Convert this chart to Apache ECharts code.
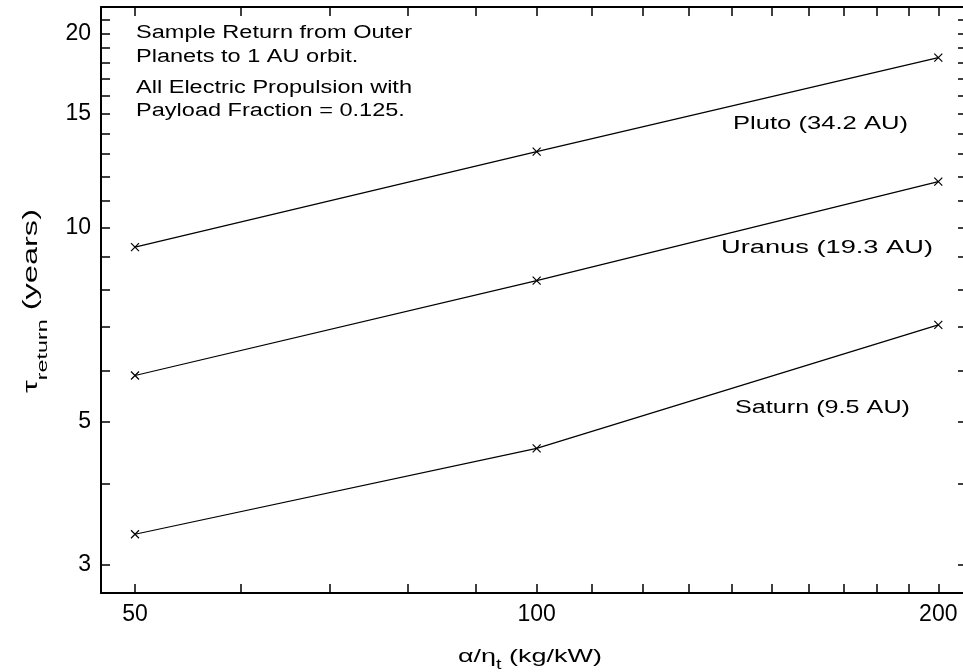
<!DOCTYPE html>
<html>
<head>
<meta charset="utf-8">
<script src="https://cdn.jsdelivr.net/npm/echarts@6/dist/echarts.min.js"></script>
<style>html,body{margin:0;padding:0;background:#fff;}#c{width:963px;height:672px;}</style>
</head>
<body>
<div id="c"></div>
<script>
// ---- data ----
const xVals = [50, 100, 200];
const plutoVals = [9.32, 13.11, 18.35];
const uranusVals = [5.89, 8.27, 11.78];
const saturnVals = [3.34, 4.54, 7.06];
const seriesNames = ['Pluto (34.2 AU)', 'Uranus (19.3 AU)', 'Saturn (9.5 AU)'];
const xLabelVals = [50, 100, 200];
const xTickVals = [50, 60, 70, 80, 90, 100, 110, 120, 130, 140, 150, 160, 170, 180, 190, 200];
const yLabelVals = [3, 5, 10, 15, 20];
const yTickVals = [3, 4, 5, 6, 7, 8, 9, 10, 11, 12, 13, 14, 15, 16, 17, 18, 19, 20, 21];
const noteLines = ['Sample Return from Outer', 'Planets to 1 AU orbit.', 'All Electric Propulsion with', 'Payload Fraction = 0.125.'];

const L = Math.log10;
const FONT = '"Liberation Sans", Arial, sans-serif';
const mctx = document.createElement('canvas').getContext('2d');
function tw(text, size) { mctx.font = size + 'px ' + FONT; return mctx.measureText(text).width; }

function textEl(text, left, cy, size, scale) {
  return { type: 'text', x: left, y: cy, scaleX: scale, silent: true,
    style: { text: text, font: size + 'px ' + FONT, fill: '#000', align: 'left', verticalAlign: 'middle' } };
}
function subTitle(parts, cx, cy, width, rotation) {
  let W = 0;
  parts.forEach(p => { p.w = tw(p.t, p.size); W += p.w; });
  const s = width / W;
  let x = -W / 2;
  const children = parts.map(p => {
    const c = { type: 'text', x: x, y: p.dy, silent: true,
      style: { text: p.t, font: p.size + 'px ' + FONT, fill: '#000', align: 'left', verticalAlign: 'middle' } };
    x += p.w; return c;
  });
  return { type: 'group', x: cx, y: cy, rotation: rotation, scaleX: s, children: children };
}

const noteScale = 276 / tw(noteLines[0], 18);
const noteY = [33, 57, 88, 111];
const graphics = noteLines.map((t, i) => textEl(t, 136, noteY[i], 18, noteScale));
const planetPos = [[733, 124, 175], [721, 248, 212], [735, 408, 175]];
seriesNames.forEach((n, i) => {
  const p = planetPos[i];
  graphics.push(textEl(n, p[0], p[1], 18, p[2] / tw(n, 18)));
});
graphics.push(subTitle([{ t: 'α/η', size: 19, dy: 0 }, { t: 't', size: 14, dy: 8 }, { t: ' (kg/kW)', size: 19, dy: 0 }], 530, 657, 144, 0));
graphics.push(subTitle([{ t: 'τ', size: 21, dy: 0 }, { t: 'return', size: 15, dy: 12 }, { t: ' (years)', size: 21, dy: 0 }], 31, 301, 184, Math.PI / 2));

const xMin = L(50) - 34 / 1334.3, xMax = L(200) + 28.7 / 1334.3;
const yMax = L(20) + 26.5 / 644.25, yMin = L(3) - 28.7 / 644.25;

function xAxisDef(pos, showLabel) {
  return {
    type: 'value', position: pos, min: xMin, max: xMax,
    axisLine: { show: true, onZero: false, lineStyle: { color: '#000', width: 2 } },
    axisTick: { show: true, inside: true, length: 9, customValues: xTickVals.map(L), lineStyle: { color: '#000', width: 1.5 } },
    axisLabel: { show: showLabel, customValues: xLabelVals.map(L), margin: 10, color: '#000', fontSize: 23, fontFamily: FONT,
      formatter: v => String(Math.round(Math.pow(10, v))) },
    splitLine: { show: false }
  };
}
function yAxisDef(pos, showLabel) {
  return {
    type: 'value', position: pos, min: yMin, max: yMax,
    axisLine: { show: true, onZero: false, lineStyle: { color: '#000', width: 2 } },
    axisTick: { show: true, inside: true, length: 9, customValues: yTickVals.map(L), lineStyle: { color: '#000', width: 1.5 } },
    axisLabel: { show: showLabel, customValues: yLabelVals.map(L), margin: 10, color: '#000', fontSize: 23, fontFamily: FONT,
      formatter: v => String(Math.round(Math.pow(10, v))) },
    splitLine: { show: false }
  };
}

function mkSeries(name, vals) {
  return {
    name: name, type: 'line', xAxisIndex: 0, yAxisIndex: 0,
    data: xVals.map((x, i) => [L(x), L(vals[i])]),
    symbol: 'path://M0 0L10 10M10 0L0 10', symbolSize: 8,
    itemStyle: { color: '#000', borderColor: '#000', borderWidth: 1.2 },
    lineStyle: { color: '#000', width: 1.2 },
    silent: true
  };
}

const chart = echarts.init(document.getElementById('c'), null, { renderer: 'canvas' });
chart.setOption({
  animation: false,
  backgroundColor: '#fff',
  grid: { left: 101, top: 7, width: 866, height: 586, containLabel: false, outerBoundsMode: 'none' },
  xAxis: [xAxisDef('bottom', true), xAxisDef('top', false)],
  yAxis: [yAxisDef('left', true), yAxisDef('right', false)],
  series: [mkSeries(seriesNames[0], plutoVals), mkSeries(seriesNames[1], uranusVals), mkSeries(seriesNames[2], saturnVals)],
  graphic: graphics
});
</script>
</body>
</html>
